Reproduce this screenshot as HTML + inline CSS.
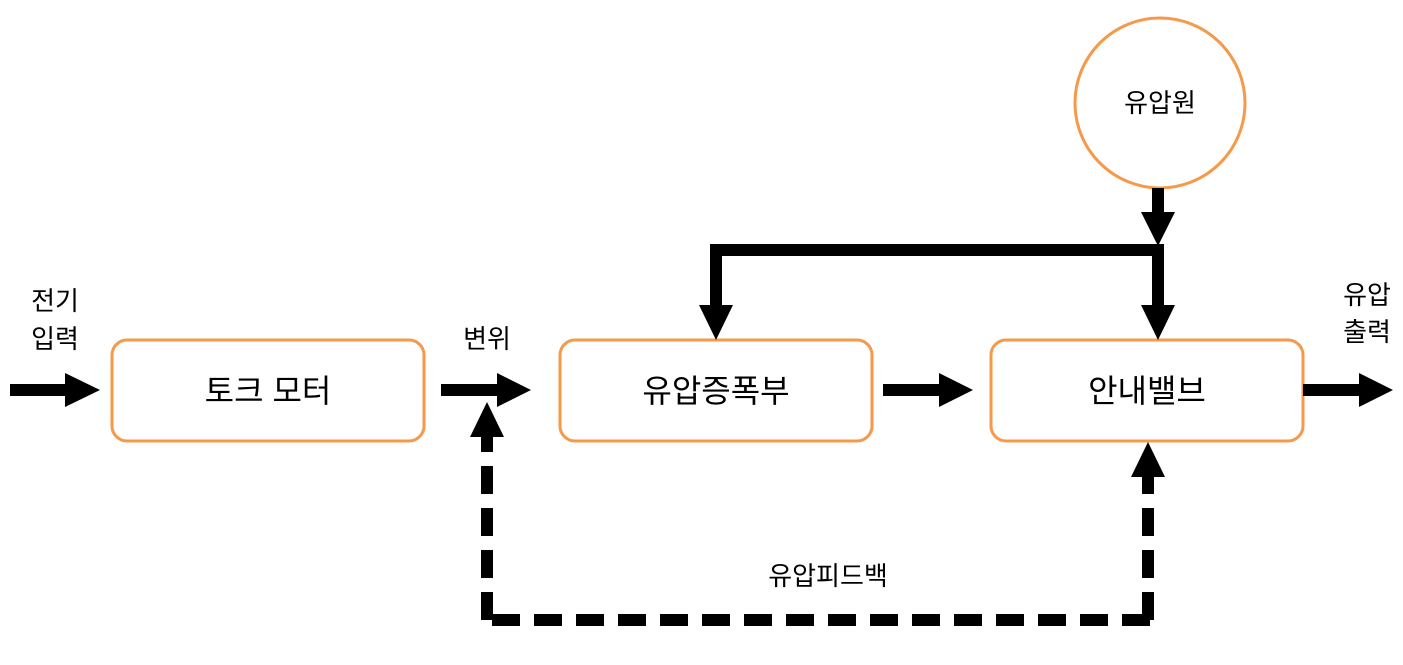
<!DOCTYPE html>
<html><head><meta charset="utf-8"><style>
body{margin:0;background:#fff}
svg text{font-family:"Liberation Sans","Noto Sans CJK KR",sans-serif;fill:#000}
</style></head><body>
<svg width="1403" height="660" viewBox="0 0 1403 660" xmlns="http://www.w3.org/2000/svg">
<g fill="none" stroke="#F5994A" stroke-width="3">
<rect x="112" y="340" width="312" height="101" rx="15"/>
<rect x="560" y="340" width="312" height="101" rx="15"/>
<rect x="991" y="340" width="312" height="101" rx="15"/>
<circle cx="1160" cy="103" r="85"/>
</g>
<g fill="#000">
<!-- horizontal arrows -->
<rect x="10" y="384" width="58" height="12"/><polygon points="65,373 100,390 65,407"/>
<rect x="441" y="384" width="59" height="12"/><polygon points="497,373 531,390 497,407"/>
<rect x="883" y="384" width="59" height="12"/><polygon points="939,373 973,390 939,407"/>
<rect x="1303" y="384" width="59" height="12"/><polygon points="1359,373 1393,390 1359,407"/>
<!-- source -->
<rect x="1152" y="188" width="12" height="28"/><polygon points="1141,212 1175,212 1158,246"/>
<rect x="710" y="244" width="454" height="12"/>
<rect x="710" y="244" width="12" height="64"/><polygon points="699,305 733,305 716,340"/>
<rect x="1152" y="244" width="12" height="64"/><polygon points="1141,305 1175,305 1158,340"/>
<!-- feedback arrowheads -->
<polygon points="1131,477 1165,477 1148,442"/>
<polygon points="470,437 504,437 487,402"/>
</g>
<g stroke="#000" stroke-width="12" fill="none" stroke-dasharray="28,14">
<line x1="1148" y1="620" x2="1148" y2="474"/>
<line x1="1150" y1="620" x2="487" y2="620"/>
<line x1="487" y1="620" x2="487" y2="434"/>
</g>
<g font-size="32" text-anchor="middle">
<text x="268" y="402">토크 모터</text>
<text x="716" y="402">유압증폭부</text>
<text x="1147" y="402">안내밸브</text>
</g>
<g font-size="26" text-anchor="middle">
<text x="1160" y="112">유압원</text>
<text x="55" y="310">전기</text>
<text x="55" y="348">입력</text>
<text x="487" y="348">변위</text>
<text x="1367" y="304">유압</text>
<text x="1367" y="341">출력</text>
<text x="828" y="585">유압피드백</text>
</g>
</svg>
</body></html>
